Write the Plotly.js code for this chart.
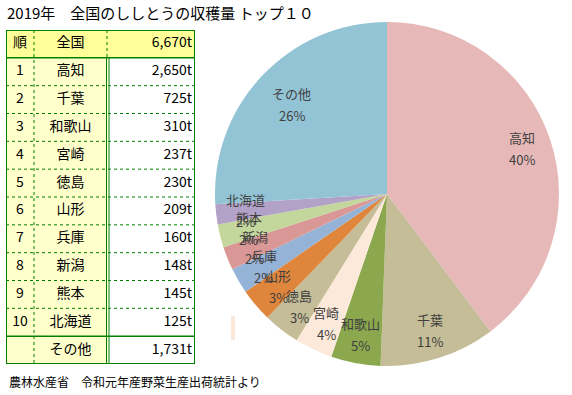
<!DOCTYPE html>
<html>
<head>
<meta charset="utf-8">
<script src="https://cdn.plot.ly/plotly-3.0.1.min.js"></script>
<style>html,body{margin:0;padding:0;background:#fff;}#chart{width:572px;height:395px;}</style>
</head>
<body>
<div id="chart"></div>
<script>
// ---- data ----
const categories = ['高知','千葉','和歌山','宮崎','徳島','山形','兵庫','新潟','熊本','北海道','その他'];
const values = [2650, 725, 310, 237, 230, 209, 160, 148, 145, 125, 1731];
const ranks = ['1','2','3','4','5','6','7','8','9','10',''];
const totalLabel = '全国';
const totalValue = 6670;
const headerRank = '順';
const titleText = '2019年　全国のししとうの収穫量 トップ１０';
const sourceText = '農林水産省　令和元年産野菜生産出荷統計より';

// ---- styles ----
const sliceColors = ['#E6B9B8','#C4BD97','#8CA84F','#FDE9D9','#C4BD97','#E0853C','#95B3D7','#D99795','#C3D69B','#B3A2C7','#93C4D6'];
const W = 572, H = 395;
const jp = '"Noto Sans CJK JP", "Noto Sans", sans-serif';
const green = '#008000';

const fmt = v => v.toLocaleString('en-US') + 't';

// pie geometry (pixels)
const pieX0 = 215, pieX1 = 559, pieTop = 22, pieBottom = 366;
const cx = (pieX0 + pieX1) / 2, cy = (pieTop + pieBottom) / 2, R = (pieX1 - pieX0) / 2;

const total = values.reduce((a, b) => a + b, 0);
const annotations = [];
let cum = 0;
values.forEach((v, i) => {
  const mid = (cum + v / 2) / total * 2 * Math.PI;
  cum += v;
  const f = (i === values.length - 1) ? 0.76 : 0.83;
  const px = cx + R * f * Math.sin(mid);
  const py = cy - R * f * Math.cos(mid);
  const pct = Math.round(v / total * 100) + '%';
  [[categories[i], py - 11], [pct, py + 11]].forEach(([t, yy]) => {
    annotations.push({
      xref: 'paper', yref: 'paper', x: px / W, y: 1 - yy / H,
      xanchor: 'center', yanchor: 'middle', showarrow: false, text: t,
      font: {family: jp, size: 13, color: '#404040'}
    });
  });
});

annotations.push({
  xref: 'paper', yref: 'paper', x: 5 / W, y: 1 - 12 / H, xanchor: 'left', yanchor: 'middle',
  showarrow: false, text: titleText, font: {family: jp, size: 15, color: '#000'}
});
annotations.push({
  xref: 'paper', yref: 'paper', x: 7 / W, y: 1 - 381 / H, xanchor: 'left', yanchor: 'middle',
  showarrow: false, text: sourceText, font: {family: jp, size: 12, color: '#000'}
});

// table geometry in table units (x: px, y: rows)
const tW = 189, c1 = 28, c2 = 101;
const nRows = categories.length + 1;
const shapes = [];
shapes.push({type: 'rect', xref: 'x', yref: 'y', x0: 0, x1: tW, y0: 0, y1: 1, fillcolor: '#FFFF99', line: {width: 0}, layer: 'below'});
shapes.push({type: 'rect', xref: 'x', yref: 'y', x0: 0, x1: c2 + 1, y0: 1, y1: nRows, fillcolor: '#FFFFCC', line: {width: 0}, layer: 'below'});
for (let r = 2; r < nRows - 1; r++) {
  shapes.push({type: 'line', xref: 'x', yref: 'y', x0: 0, x1: tW, y0: r, y1: r, line: {color: green, width: 1, dash: 'dot'}});
}
[1, nRows - 1].forEach(r => shapes.push({type: 'line', xref: 'x', yref: 'y', x0: 0, x1: tW, y0: r, y1: r, line: {color: green, width: 1.5}}));
shapes.push({type: 'line', xref: 'x', yref: 'y', x0: c1, x1: c1, y0: 0, y1: nRows, line: {color: green, width: 1, dash: 'dot'}});
shapes.push({type: 'line', xref: 'x', yref: 'y', x0: c2, x1: c2, y0: 0, y1: 1, line: {color: green, width: 1, dash: 'dot'}});
[c2 - 0.5, c2 + 2].forEach(x => shapes.push({type: 'line', xref: 'x', yref: 'y', x0: x, x1: x, y0: 1, y1: nRows, line: {color: green, width: 1}}));
shapes.push({type: 'rect', xref: 'x', yref: 'y', x0: 0, x1: tW, y0: 0, y1: nRows, line: {color: green, width: 2}});
// small stray mark in the reference
shapes.push({type: 'rect', xref: 'paper', yref: 'paper', x0: 231 / W, x1: 235 / W, y0: 1 - 340 / H, y1: 1 - 316 / H, fillcolor: '#FDE9D9', line: {width: 0}});

const rowY = Array.from({length: nRows}, (_, i) => i + 0.5);
const cellFont = {family: jp, size: 14, color: '#000'};

const traces = [
  {
    type: 'pie', labels: categories, values: values, sort: false, direction: 'clockwise', rotation: 0,
    marker: {colors: sliceColors, line: {width: 0}}, textinfo: 'none', hoverinfo: 'skip', showlegend: false,
    domain: {x: [pieX0 / W, pieX1 / W], y: [1 - pieBottom / H, 1 - pieTop / H]}
  },
  {type: 'scatter', mode: 'text', x: rowY.map(() => c1 / 2), y: rowY, text: [headerRank].concat(ranks),
   textposition: 'middle center', textfont: cellFont, cliponaxis: false, showlegend: false, hoverinfo: 'skip'},
  {type: 'scatter', mode: 'text', x: rowY.map(() => (c1 + c2) / 2), y: rowY, text: [totalLabel].concat(categories),
   textposition: 'middle center', textfont: cellFont, cliponaxis: false, showlegend: false, hoverinfo: 'skip'},
  {type: 'scatter', mode: 'text', x: rowY.map(() => tW - 3), y: rowY, text: [fmt(totalValue)].concat(values.map(fmt)),
   textposition: 'middle left', textfont: cellFont, cliponaxis: false, showlegend: false, hoverinfo: 'skip'}
];

const layout = {
  width: W, height: H, margin: {l: 0, r: 0, t: 0, b: 0},
  paper_bgcolor: '#fff', plot_bgcolor: 'rgba(0,0,0,0)', showlegend: false,
  xaxis: {domain: [6 / W, 195 / W], range: [0, tW], visible: false, fixedrange: true},
  yaxis: {domain: [1 - 364 / H, 1 - 30 / H], range: [nRows, 0], visible: false, fixedrange: true},
  shapes: shapes, annotations: annotations
};

Plotly.newPlot('chart', traces, layout, {displayModeBar: false, staticPlot: true});
</script>
</body>
</html>
